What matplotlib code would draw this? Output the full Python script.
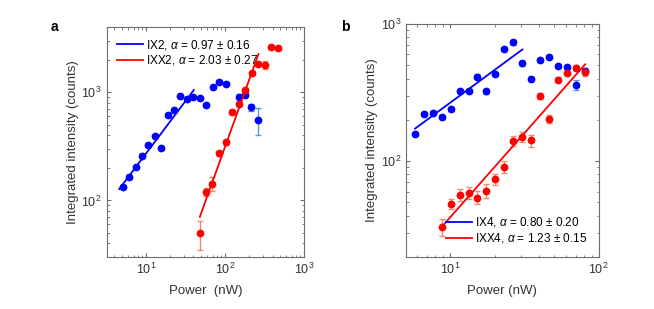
import numpy as np
import matplotlib.pyplot as plt

plt.rcParams['font.family'] = ['Liberation Sans', 'DejaVu Sans']
plt.rcParams['mathtext.fontset'] = 'custom'
plt.rcParams['mathtext.rm'] = 'Liberation Sans'
plt.rcParams['mathtext.it'] = 'Liberation Sans:italic'

# ---- panel a data ----
a_ix_power = [5.09, 6.11, 7.42, 8.91, 10.7, 12.97, 15.76, 18.9, 22.96, 27.3, 32.8,
              39.8, 48.2, 58.5, 70.2, 85.3, 102.3, 149.2, 181, 215, 264]
a_ix_int = [134, 166, 202, 259, 322, 393, 304, 611, 679, 927, 858,
            894, 881, 766, 1111, 1245, 1194, 894, 938, 728, 558]
a_ix_err = [5, 6, 7, 8, 10, 12, 10, 20, 22, 30, 28,
            28, 28, 25, 35, 40, 38, 75, 40, 55, 160]

a_ixx_power = [48.2, 58.0, 69.6, 85.3, 102.3, 123.2, 149.2, 181, 217, 262, 318, 385, 464]
a_ixx_int = [49.8, 119, 143, 272, 345, 655, 780, 1051, 1500, 1833, 1786, 2588, 2535]
a_ixx_err = [15, 10, 20, 15, 20, 30, 35, 45, 60, 80, 150, 100, 100]

a_ix_fit = (4.61, 40.5, 28.9, 0.97)      # Pmin, Pmax, prefactor, alpha
a_ixx_fit = (48.2, 266, 10 ** -1.5688, 2.03)

# ---- panel b data ----
b_ix_power = [5.83, 6.69, 7.66, 8.84, 10.1, 11.67, 13.4, 15.33, 17.6, 20.2,
              23.25, 26.7, 30.7, 35.2, 40.5, 46.5, 53.5, 61.4, 70.6, 81.1]
b_ix_int = [158, 222, 226, 210, 240, 324, 324, 414, 322, 433,
            657, 735, 516, 396, 548, 576, 493, 487, 360, 455]
b_ix_err = [6, 8, 8, 8, 9, 12, 12, 15, 12, 16,
            24, 27, 19, 15, 20, 21, 18, 18, 30, 25]

b_ixx_power = [8.84, 10.1, 11.67, 13.4, 15.33, 17.6, 20.2, 23.25, 26.7,
               30.7, 35.2, 40.5, 46.5, 53.5, 61.4, 70.6, 81.1]
b_ixx_int = [33.1, 48.8, 56.8, 58.7, 54.3, 60.7, 73.8, 91.0, 140.6,
             149.8, 141.7, 300, 203.6, 393, 442, 477, 443]
b_ixx_err = [4.5, 4, 6, 6, 6, 7, 7, 9, 12, 12, 14, 15, 14, 15, 18, 22, 25]

b_ix_fit = (5.83, 30.7, 10 ** 1.6245, 0.80)
b_ixx_fit = (8.84, 81.1, 10 ** 0.358, 1.23)

blue = '#0000ff'
red = '#ff0000'
blue_err = '#4a9fd8'
red_err = '#f08a6a'
axcol = '#6e6e6e'
txtcol = '#333333'

fig = plt.figure(figsize=(6.54, 3.09), dpi=100)
ax_a = fig.add_axes([0.1631, 0.1683, 0.3017, 0.7443])
ax_b = fig.add_axes([0.6208, 0.1683, 0.2946, 0.7540])


def draw(ax, p1, i1, e1, f1, lab1, p2, i2, e2, f2, lab2):
    ax.errorbar(p1, i1, yerr=e1, fmt='none', ecolor=blue_err, elinewidth=1, capsize=2, zorder=2)
    ax.errorbar(p2, i2, yerr=e2, fmt='none', ecolor=red_err, elinewidth=1, capsize=2, zorder=2)
    ax.plot(p1, i1, 'o', color=blue, ms=5.6, mec='none', zorder=3)
    ax.plot(p2, i2, 'o', color=red, ms=5.6, mec='none', zorder=3)
    for f, c, lab in [(f1, blue, lab1), (f2, red, lab2)]:
        x = np.array([f[0], f[1]])
        ax.plot(x, f[2] * x ** f[3], color=c, lw=1.3, zorder=4, label=lab)
    ax.set_xscale('log')
    ax.set_yscale('log')
    ax.tick_params(which='both', direction='in', top=True, right=True, color=axcol,
                   labelsize=9, labelcolor=txtcol)
    ax.tick_params(which='major', length=3)
    ax.tick_params(which='minor', length=1.8)
    for s in ax.spines.values():
        s.set_color(axcol)
        s.set_linewidth(0.8)
    ax.set_ylabel('Integrated intensity (counts)', fontsize=9.5, color=txtcol, labelpad=2)


draw(ax_a, a_ix_power, a_ix_int, a_ix_err, a_ix_fit, r'IX2, $\alpha$ = 0.97 $\pm$ 0.16',
     a_ixx_power, a_ixx_int, a_ixx_err, a_ixx_fit, r'IXX2, $\alpha$ = 2.03 $\pm$ 0.27')
ax_a.set_xlim(3.2, 1000)
ax_a.set_ylim(30, 4000)
ax_a.set_xlabel('Power  (nW)', fontsize=9.5, color=txtcol, labelpad=6)
ax_a.legend(loc='upper left', frameon=False, fontsize=8.5, handlelength=2.2,
            handletextpad=0.2, labelspacing=0.15, borderaxespad=0.5)

draw(ax_b, b_ix_power, b_ix_int, b_ix_err, b_ix_fit, r'IX4, $\alpha$ = 0.80 $\pm$ 0.20',
     b_ixx_power, b_ixx_int, b_ixx_err, b_ixx_fit, r'IXX4, $\alpha$ = 1.23 $\pm$ 0.15')
ax_b.set_xlim(5.07, 100)
ax_b.set_ylim(20, 1000)
ax_b.set_xlabel('Power (nW)', fontsize=9.5, color=txtcol, labelpad=6)
ax_b.legend(loc='lower right', frameon=False, fontsize=8.5, handlelength=2.2,
            handletextpad=0.2, labelspacing=0.15, borderaxespad=0.6)

fig.text(0.078, 0.913, 'a', fontsize=10, fontweight='bold', va='center')
fig.text(0.522, 0.913, 'b', fontsize=10, fontweight='bold', va='center')

fig.savefig('out.png', dpi=100)
